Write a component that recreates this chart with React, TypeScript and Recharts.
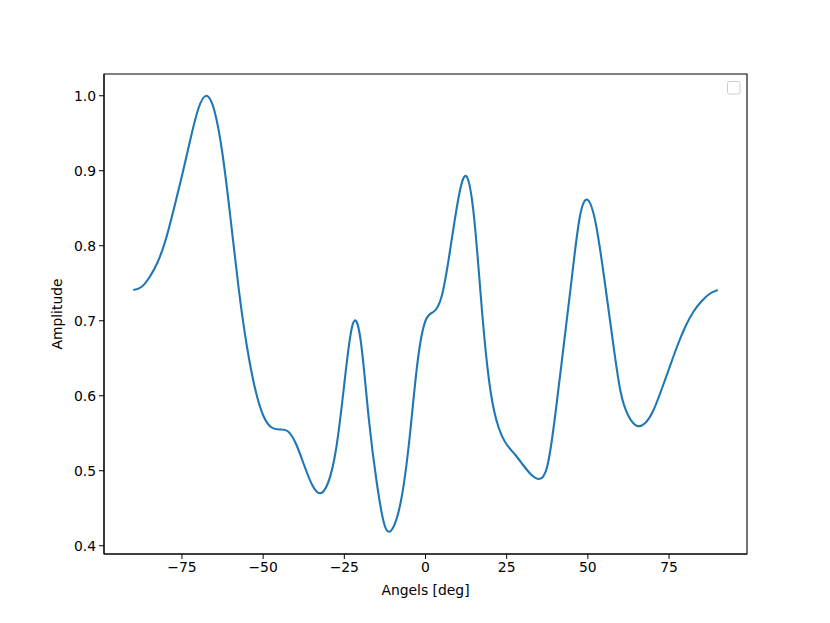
import React from 'react';
import { LineChart, Line, XAxis, YAxis, ReferenceArea, Customized } from 'recharts';

const angles = [
  -90, -87.5, -85, -82.5, -80, -77.5, -75, -72.5, -70, -67.5, -65, -62.5, -60, -57.5, -55, -52.5, -50,
  -47.5, -45, -42.5, -40, -37.5, -35, -32.5, -30, -27.5, -25, -22.5, -20, -17.5, -15, -12.5, -10, -7.5,
  -5, -2.5, 0, 2.5, 5, 7.5, 10, 12.5, 15, 17.5, 20, 22.5, 25, 27.5, 30, 32.5, 35, 37.5, 40, 42.5, 45,
  47.5, 50, 52.5, 55, 57.5, 60, 62.5, 65, 67.5, 70, 72.5, 75, 77.5, 80, 82.5, 85, 87.5, 90,
];
const amplitudes = [
  0.741, 0.745, 0.758, 0.778, 0.808, 0.849, 0.893, 0.940, 0.982, 1.0, 0.980, 0.922, 0.835, 0.742, 0.666, 0.610, 0.574,
  0.558, 0.555, 0.553, 0.537, 0.509, 0.482, 0.470, 0.484, 0.530, 0.616, 0.694, 0.675, 0.571, 0.484, 0.426, 0.424, 0.461,
  0.540, 0.643, 0.700, 0.712, 0.733, 0.792, 0.860, 0.893, 0.836, 0.708, 0.607, 0.558, 0.535, 0.522, 0.508, 0.495, 0.489, 0.506, 0.576, 0.665, 0.755,
  0.838, 0.861, 0.828, 0.758, 0.679, 0.607, 0.573, 0.560, 0.563, 0.579, 0.606, 0.636, 0.666, 0.692, 0.712, 0.726, 0.736, 0.741,
];
const xTicks = [-75, -50, -25, 0, 25, 50, 75];
const yTicks = [0.4, 0.5, 0.6, 0.7, 0.8, 0.9, 1.0];
const xDomain = [-99, 99];
const yDomain = [0.389, 1.029];
const xLabel = 'Angels [deg]';
const yLabel = 'Amplitude';

const data = angles.map((a, i) => ({ angle: a, amp: amplitudes[i] }));

const FONT = 'DejaVu Sans, sans-serif';
const tickStyle = { fontSize: 13.9, fill: '#000', fontFamily: FONT };
const fmtX = (v: number) => (v < 0 ? '\u2212' + Math.abs(v) : String(v));
const fmtY = (v: number) => v.toFixed(1);

export default function App() {
  return (
    <div style={{ position: 'absolute', left: 0, top: 0 }}>
      <LineChart width={830} height={623} data={data} margin={{ top: 74, right: 83, bottom: 19, left: 44 }}>
        <XAxis
          dataKey="angle"
          type="number"
          domain={xDomain}
          ticks={xTicks}
          tickFormatter={fmtX}
          allowDataOverflow
          height={50}
          stroke="#000"
          tickSize={5}
          tickMargin={3}
          tick={tickStyle}
          label={{
            content: ({ viewBox }: any) => (
              <text
                x={viewBox.x + viewBox.width / 2}
                y={viewBox.y + 41}
                textAnchor="middle"
                fontSize={13.9}
                fontFamily={FONT}
                fill="#000"
              >
                {xLabel}
              </text>
            ),
          }}
        />
        <YAxis
          type="number"
          domain={yDomain}
          ticks={yTicks}
          tickFormatter={fmtY}
          allowDataOverflow
          width={60}
          stroke="#000"
          tickSize={5}
          tickMargin={3}
          tick={tickStyle}
          label={{
            content: ({ viewBox }: any) => {
              const x = viewBox.x + 18;
              const y = viewBox.y + viewBox.height / 2;
              return (
                <text
                  x={x}
                  y={y}
                  transform={`rotate(-90 ${x} ${y})`}
                  textAnchor="middle"
                  fontSize={13.9}
                  fontFamily={FONT}
                  fill="#000"
                >
                  {yLabel}
                </text>
              );
            },
          }}
        />
        <ReferenceArea
          x1={xDomain[0]}
          x2={xDomain[1]}
          y1={yDomain[0]}
          y2={yDomain[1]}
          fill="none"
          fillOpacity={0}
          stroke="#000"
          strokeWidth={1.1}
          ifOverflow="visible"
        />
        <Line
          dataKey="amp"
          type="natural"
          stroke="#1f77b4"
          strokeWidth={2.1}
          dot={false}
          activeDot={false}
          isAnimationActive={false}
        />
        <Customized
          component={() => (
            <rect x={727.5} y={81.5} width={12.5} height={12.5} rx={2} fill="#fff" stroke="#cccccc" strokeWidth={1} />
          )}
        />
      </LineChart>
    </div>
  );
}
